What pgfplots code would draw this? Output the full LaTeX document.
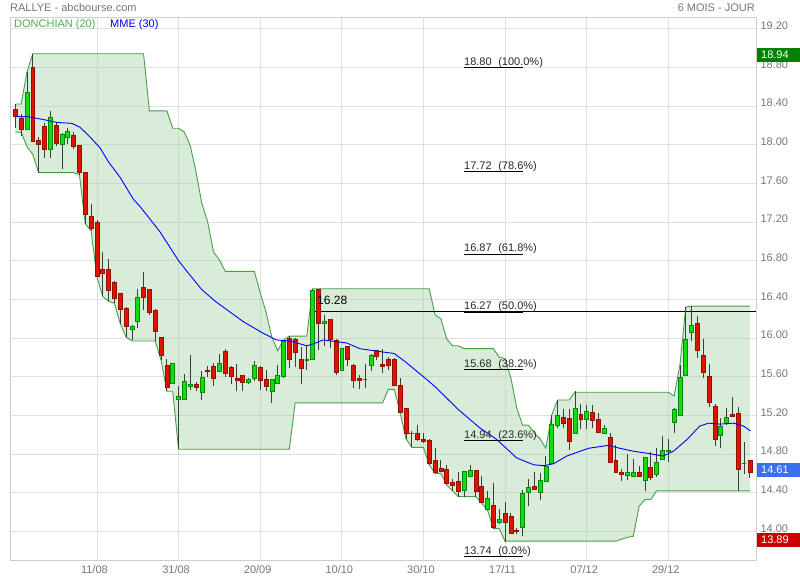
\documentclass[border=0pt]{standalone}
\usepackage{fontspec}
\setmainfont{Liberation Sans}
\usepackage{pgfplots}
\pgfplotsset{compat=1.18}
\usepackage{pgfplotstable}
\usepgfplotslibrary{fillbetween}

\definecolor{candleup}{RGB}{20,220,20}
\definecolor{candleupd}{RGB}{0,140,0}
\definecolor{candledn}{RGB}{221,20,0}
\definecolor{candlednd}{RGB}{150,15,0}
\definecolor{wick}{RGB}{60,60,60}
\definecolor{chanbase}{RGB}{170,210,170}
\definecolor{chanline}{RGB}{70,160,70}
\definecolor{gridc}{RGB}{224,224,224}
\definecolor{framec}{RGB}{205,205,205}
\definecolor{txtgray}{RGB}{118,118,118}
\definecolor{fibtxt}{RGB}{40,40,40}
\definecolor{leggreen}{RGB}{76,175,80}
\definecolor{boxgreen}{RGB}{0,128,0}
\definecolor{boxblue}{RGB}{58,112,240}
\definecolor{boxred}{RGB}{200,0,0}

\pgfplotstableread{
i o h l c
0 18.37 18.42 18.17 18.29
1 18.27 18.32 18.09 18.16
2 18.16 18.75 18.16 18.54
3 18.80 18.94 18.03 18.03
4 18.04 18.08 17.71 18.00
5 18.19 18.22 17.86 17.95
6 17.95 18.35 17.86 18.28
7 18.20 18.23 17.99 18.01
8 18.00 18.12 17.75 18.11
9 18.08 18.17 18.01 18.14
10 18.10 18.13 17.95 17.98
11 17.99 18.00 17.69 17.71
12 17.71 17.72 17.18 17.28
13 17.26 17.39 17.11 17.13
14 17.20 17.22 16.63 16.64
15 16.71 16.89 16.43 16.67
16 16.71 16.82 16.38 16.49
17 16.58 16.59 16.36 16.41
18 16.46 16.46 16.15 16.30
19 16.31 16.32 16.01 16.12
20 16.09 16.13 15.98 16.12
21 16.17 16.51 16.10 16.42
22 16.52 16.68 16.29 16.42
23 16.50 16.50 16.24 16.27
24 16.29 16.30 15.97 16.07
25 16.01 16.01 15.77 15.82
26 15.72 15.78 15.45 15.49
27 15.53 15.74 15.52 15.74
28 15.37 15.50 14.85 15.40
29 15.37 15.63 15.36 15.55
30 15.50 15.82 15.46 15.52
31 15.52 15.55 15.45 15.49
32 15.44 15.66 15.36 15.59
33 15.67 15.71 15.60 15.66
34 15.71 15.74 15.50 15.58
35 15.66 15.84 15.65 15.74
36 15.86 15.89 15.60 15.64
37 15.70 15.71 15.52 15.60
38 15.58 15.73 15.45 15.56
39 15.61 15.62 15.45 15.54
40 15.54 15.59 15.53 15.57
41 15.58 15.76 15.56 15.72
42 15.70 15.71 15.46 15.56
43 15.57 15.67 15.45 15.50
44 15.45 15.58 15.33 15.57
45 15.53 15.72 15.52 15.61
46 15.60 15.98 15.59 15.97
47 16.00 16.02 15.69 15.78
48 15.99 16.00 15.70 15.85
49 15.78 15.91 15.53 15.69
50 15.77 15.92 15.67 15.78
51 15.78 16.51 15.78 16.49
52 16.50 16.51 15.88 16.15
53 16.15 16.24 15.92 16.17
54 16.19 16.20 15.90 15.99
55 15.98 15.99 15.62 15.65
56 15.67 15.90 15.66 15.89
57 15.91 15.92 15.71 15.78
58 15.72 15.73 15.48 15.56
59 15.58 15.62 15.47 15.56
60 15.57 15.73 15.48 15.57
61 15.72 15.83 15.66 15.82
62 15.87 15.88 15.77 15.81
63 15.73 15.89 15.64 15.71
64 15.78 15.80 15.67 15.72
65 15.78 15.79 15.50 15.51
66 15.51 15.59 15.23 15.23
67 15.27 15.28 14.96 15.02
68 15.01 15.04 14.87 15.02
69 15.02 15.10 14.94 14.95
70 14.95 15.02 14.92 14.93
71 14.94 14.96 14.69 14.70
72 14.74 14.86 14.60 14.61
73 14.65 14.74 14.61 14.62
74 14.64 14.69 14.48 14.50
75 14.51 14.54 14.42 14.48
76 14.52 14.62 14.36 14.42
77 14.43 14.63 14.36 14.62
78 14.57 14.69 14.56 14.63
79 14.63 14.63 14.36 14.42
80 14.47 14.57 14.29 14.30
81 14.23 14.42 14.22 14.34
82 14.27 14.50 14.03 14.04
83 14.09 14.23 14.08 14.13
84 14.19 14.30 13.89 14.10
85 14.16 14.19 13.98 13.98
86 14.01 14.04 13.97 14.00
87 14.04 14.43 13.95 14.39
88 14.40 14.54 14.26 14.46
89 14.47 14.61 14.44 14.44
90 14.40 14.60 14.33 14.53
91 14.52 14.78 14.51 14.67
92 14.71 15.20 14.70 15.11
93 15.10 15.36 15.07 15.20
94 15.18 15.27 15.07 15.12
95 15.17 15.27 14.84 14.93
96 15.02 15.45 15.01 15.27
97 15.21 15.32 15.06 15.16
98 15.16 15.31 15.06 15.24
99 15.23 15.31 15.07 15.15
100 15.16 15.23 15.02 15.03
101 15.02 15.10 15.01 15.07
102 14.97 15.02 14.71 14.72
103 14.74 14.89 14.60 14.61
104 14.61 14.65 14.52 14.59
105 14.58 14.80 14.53 14.61
106 14.57 14.75 14.56 14.61
107 14.61 14.68 14.56 14.57
108 14.53 14.77 14.42 14.77
109 14.66 14.82 14.53 14.56
110 14.59 14.86 14.56 14.72
111 14.75 14.99 14.74 14.84
112 14.83 14.96 14.72 14.84
113 15.13 15.28 15.02 15.26
114 15.20 15.72 15.19 15.59
115 15.61 16.32 15.61 15.99
116 16.06 16.33 15.97 16.13
117 16.15 16.23 15.79 15.87
118 15.82 15.99 15.59 15.65
119 15.60 15.73 15.29 15.34
120 15.29 15.32 14.88 14.95
121 14.99 15.17 14.86 15.09
122 15.12 15.28 15.10 15.18
123 15.21 15.39 15.18 15.19
124 15.22 15.29 14.42 14.64
125 14.70 14.93 14.59 14.70
126 14.74 14.74 14.55 14.61
}\candles

\pgfplotstableread{
i up lo
0 18.42 18.13
1 18.42 18.13
2 18.75 17.98
3 18.94 17.90
4 18.94 17.71
10 18.94 17.71
11 18.94 17.69
12 18.94 17.18
13 18.94 17.11
14 18.94 16.63
15 18.94 16.43
16 18.94 16.38
17 18.94 16.36
18 18.94 16.15
19 18.94 16.01
20 18.94 15.97
22 18.94 15.97
23 18.35 15.97
24 18.35 15.97
25 18.35 15.77
26 18.35 15.45
27 18.17 15.45
28 18.17 14.85
29 18.13 14.85
30 17.99 14.85
31 17.72 14.85
32 17.39 14.85
33 17.20 14.85
34 16.89 14.85
35 16.81 14.85
36 16.69 14.85
41 16.69 14.85
42 16.47 14.85
43 16.27 14.85
44 16.01 14.85
45 15.87 14.85
46 15.98 14.85
47 16.02 14.85
48 16.02 15.33
50 16.02 15.33
51 16.51 15.33
63 16.51 15.33
64 16.51 15.47
65 16.51 15.47
66 16.51 15.23
67 16.51 14.96
68 16.51 14.87
70 16.51 14.87
71 16.51 14.69
72 16.24 14.60
73 16.20 14.60
74 15.99 14.48
75 15.92 14.42
76 15.92 14.36
77 15.89 14.36
79 15.89 14.36
80 15.89 14.29
81 15.89 14.22
82 15.89 14.03
83 15.80 14.03
84 15.79 13.90
85 15.59 13.90
86 15.28 13.90
87 15.10 13.90
88 15.10 13.90
89 15.02 13.90
90 14.96 13.90
91 14.86 13.90
92 15.20 13.90
93 15.36 13.90
95 15.36 13.90
96 15.44 13.90
103 15.44 13.90
104 15.44 13.92
105 15.44 13.94
106 15.44 13.95
107 15.44 14.26
108 15.44 14.33
109 15.44 14.33
110 15.44 14.42
112 15.44 14.42
113 15.40 14.42
114 15.72 14.42
115 16.32 14.42
116 16.33 14.42
126 16.33 14.42
}\donch

\pgfplotstableread{
i m
0 18.29
2 18.29
4.8 18.26
7.1 18.23
9.7 18.22
11.1 18.18
12.8 18.08
14.5 17.97
16 17.82
18 17.66
20.2 17.44
21.4 17.36
24.8 17.10
28 16.80
29.7 16.67
32 16.50
34.3 16.38
39.1 16.17
42.5 16.05
44.8 15.98
47.1 15.97
50 15.92
51.1 15.94
52.8 15.98
55.4 15.96
56.8 15.95
59.1 15.89
62.6 15.86
65 15.84
67 15.75
69 15.65
71 15.55
72.3 15.48
76 15.26
79.7 15.07
82.6 14.95
86 14.76
88.9 14.69
90.6 14.68
92.3 14.70
94.6 14.78
96.9 14.83
98.3 14.86
101.7 14.89
103.7 14.86
106 14.83
108.3 14.81
111.1 14.78
112.9 14.83
115.2 14.95
117.4 15.09
118.9 15.12
120.9 15.11
123.2 15.12
124.9 15.09
126.1 15.04
}\mme

\pgfplotsset{
  upc/.style={draw=candleupd, fill=candleup, line width=0.6bp},
  dnc/.style={draw=candlednd, fill=candledn, line width=0.6bp},
  wickst/.style={draw=wick, line width=0.8bp, mark=none},
}

\newcommand{\fibfont}{\fontsize{11bp}{13bp}\selectfont}

\begin{document}
\begin{tikzpicture}[font=\fontsize{11bp}{13bp}\selectfont]
\begin{axis}[
  at={(10bp,20bp)}, anchor=south west, scale only axis,
  width=746bp, height=543bp,
  xmin=-0.91, xmax=127.05, ymin=13.705, ymax=19.32,
  xtick={14,28,42,56,70,84,98,112},
  xticklabels={11/08,31/08,20/09,10/10,30/10,17/11,07/12,29/12},
  ytick={14,14.4,14.8,15.2,15.6,16,16.4,16.8,17.2,17.6,18,18.4,18.8,19.2},
  yticklabel pos=right,
  major tick length=0pt,
  grid=major,
  major grid style={draw=gridc, line width=0.8bp},
  axis line style={draw=framec, line width=0.8bp},
  tick label style={font=\fontsize{11bp}{13bp}\selectfont, text=txtgray},
  xticklabel style={anchor=center, yshift=-10bp, xshift=-2.5bp},
  yticklabel style={anchor=west, xshift=1bp, yshift=3bp,
    /pgf/number format/fixed, /pgf/number format/fixed zerofill,
    /pgf/number format/precision=2, /pgf/number format/assume math mode=true},
]
% channel
\addplot[name path=dup, draw=none, forget plot] table[x=i,y=up]{\donch};
\addplot[name path=dlo, draw=none, forget plot] table[x=i,y=lo]{\donch};
\addplot[fill=chanbase, fill opacity=0.45, draw=none, forget plot] fill between[of=dup and dlo];
\addplot[chanline, line width=0.9bp, mark=none] table[x=i,y=up]{\donch};
\addplot[chanline, line width=0.9bp, mark=none] table[x=i,y=lo]{\donch};

% fibonacci levels
\addplot[black, line width=0.8bp] coordinates {(76.96,18.80) (87.03,18.80)};
\addplot[black, line width=0.8bp] coordinates {(76.96,17.72) (87.03,17.72)};
\addplot[black, line width=0.8bp] coordinates {(76.96,16.87) (87.03,16.87)};
\addplot[black, line width=0.8bp] coordinates {(76.96,16.27) (87.03,16.27)};
\addplot[black, line width=0.8bp] coordinates {(76.96,15.68) (87.03,15.68)};
\addplot[black, line width=0.8bp] coordinates {(76.96,14.94) (87.03,14.94)};
\addplot[black, line width=0.8bp] coordinates {(76.96,13.74) (87.03,13.74)};
\node[anchor=base west, inner sep=0, yshift=2bp, text=fibtxt, font=\fibfont] at (axis cs:76.96,18.80) {18.80\hspace{0.6em}(100.0\%)};
\node[anchor=base west, inner sep=0, yshift=2bp, text=fibtxt, font=\fibfont] at (axis cs:76.96,17.72) {17.72\hspace{0.6em}(78.6\%)};
\node[anchor=base west, inner sep=0, yshift=2bp, text=fibtxt, font=\fibfont] at (axis cs:76.96,16.87) {16.87\hspace{0.6em}(61.8\%)};
\node[anchor=base west, inner sep=0, yshift=2bp, text=fibtxt, font=\fibfont] at (axis cs:76.96,16.27) {16.27\hspace{0.6em}(50.0\%)};
\node[anchor=base west, inner sep=0, yshift=2bp, text=fibtxt, font=\fibfont] at (axis cs:76.96,15.68) {15.68\hspace{0.6em}(38.2\%)};
\node[anchor=base west, inner sep=0, yshift=2bp, text=fibtxt, font=\fibfont] at (axis cs:76.96,14.94) {14.94\hspace{0.6em}(23.6\%)};
\node[anchor=base west, inner sep=0, yshift=2bp, text=fibtxt, font=\fibfont] at (axis cs:76.96,13.74) {13.74\hspace{0.6em}(0.0\%)};

% horizontal line 16.28
\addplot[black, line width=0.9bp] coordinates {(51.07,16.28) (127.05,16.28)};

% candles
\pgfplotstablegetrowsof{\candles}
\pgfmathtruncatemacro{\lastrow}{\pgfplotsretval-1}
\pgfplotsforeachungrouped \rowk in {0,...,\lastrow}{%
  \pgfplotstablegetelem{\rowk}{i}\of\candles \edef\cdI{\pgfplotsretval}%
  \pgfplotstablegetelem{\rowk}{o}\of\candles \edef\cdO{\pgfplotsretval}%
  \pgfplotstablegetelem{\rowk}{h}\of\candles \edef\cdH{\pgfplotsretval}%
  \pgfplotstablegetelem{\rowk}{l}\of\candles \edef\cdL{\pgfplotsretval}%
  \pgfplotstablegetelem{\rowk}{c}\of\candles \edef\cdC{\pgfplotsretval}%
  \pgfmathsetmacro\cdXa{\cdI-0.34}%
  \pgfmathsetmacro\cdXb{\cdI+0.34}%
  \pgfmathparse{\cdC>=\cdO?1:0}%
  \ifdim\pgfmathresult pt>0.5pt \def\cdSt{upc}\else\def\cdSt{dnc}\fi
  \edef\cdTmp{%
    \noexpand\addplot[wickst, forget plot] coordinates {(\cdI,\cdL) (\cdI,\cdH)};
    \noexpand\addplot[\cdSt, forget plot, mark=none] coordinates {(\cdXa,\cdO) (\cdXb,\cdO) (\cdXb,\cdC) (\cdXa,\cdC)} --cycle;
  }%
  \cdTmp
}

% MME 30
\addplot[blue, line width=0.9bp, mark=none] table[x=i,y=m]{\mme};

\node[anchor=base west, inner sep=0, yshift=6bp, font=\fontsize{12bp}{14bp}\selectfont] at (axis cs:51.75,16.28) {16.28};

\coordinate (bg) at (axis cs:127.05,18.93);
\coordinate (bb) at (axis cs:127.05,14.635);
\coordinate (br) at (axis cs:127.05,13.91);
\end{axis}

\node[fill=boxgreen, text=white, anchor=west, inner xsep=0, inner ysep=0, minimum height=14bp] at ([xshift=1bp]bg) {\hspace*{4bp}18.94\hspace*{11bp}};
\node[fill=boxblue, text=white, anchor=west, inner xsep=0, inner ysep=0, minimum height=14bp] at ([xshift=1bp]bb) {\hspace*{4bp}14.61\hspace*{11bp}};
\node[fill=boxred, text=white, anchor=west, inner xsep=0, inner ysep=0, minimum height=14bp] at ([xshift=1bp]br) {\hspace*{4bp}13.89\hspace*{11bp}};

\node[anchor=west, inner sep=0, text=txtgray] at (10bp,572bp) {RALLYE - abcbourse.com};
\node[anchor=east, inner sep=0, text=txtgray] at (755bp,572bp) {6 MOIS - JOUR};
\node[anchor=west, inner sep=0, text=leggreen] at (14bp,555bp) {DONCHIAN (20)};
\node[anchor=west, inner sep=0, text=blue] at (110bp,555bp) {MME (30)};

\pgfresetboundingbox
\path[use as bounding box] (0,0) rectangle (800bp,580bp);
\end{tikzpicture}
\end{document}
